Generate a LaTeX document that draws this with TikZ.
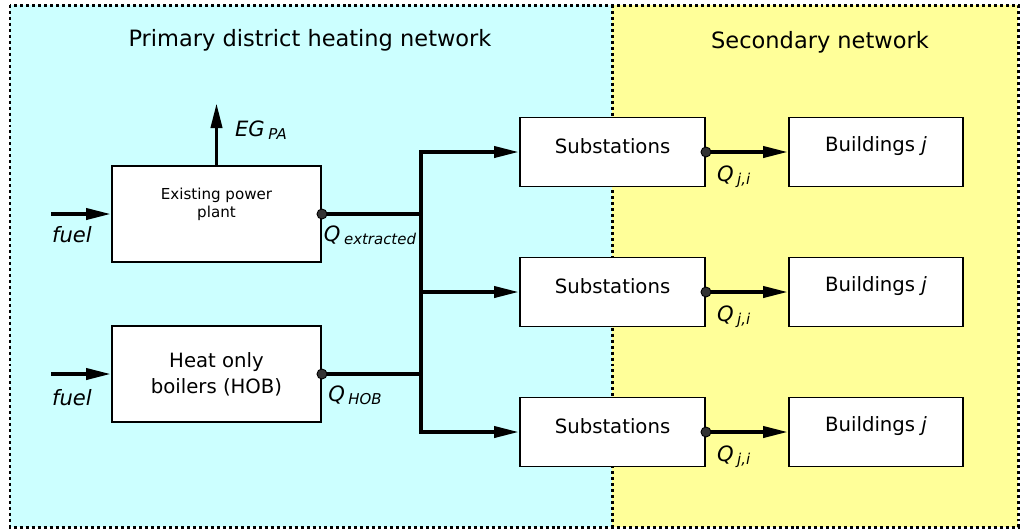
\documentclass[tikz,border=0pt]{standalone}
\usepackage{fontspec}
\setmainfont{DejaVu Sans}
\usetikzlibrary{positioning, arrows.meta}
\definecolor{primbg}{HTML}{CCFFFF}
\definecolor{secbg}{HTML}{FFFF99}
\definecolor{dotgray}{HTML}{333333}
\newcommand{\flowsub}[1]{\,\raisebox{-1.5pt}{\fontsize{8.5}{10}\selectfont #1}}

\begin{document}
\begin{tikzpicture}[
  font=\fontsize{11.2}{14.7}\selectfont,
  box/.style={rectangle, draw, fill=white, line width=1.1pt, minimum height=1.38cm, inner sep=0pt},
  flow/.style={line width=2.2pt},
  arr/.style={flow, -{Triangle[length=0.5cm, width=0.22cm]}},
  dot/.style={circle, draw, fill=dotgray, line width=0.5pt, inner sep=0pt, minimum size=0.2cm},
  var/.style={font=\fontsize{12}{14}\selectfont\itshape, inner sep=1pt},
  title/.style={font=\fontsize{12.8}{15}\selectfont},
  frame/.style={line width=1.7pt, dash pattern=on 1.7pt off 1.7pt},
]
\useasboundingbox (0,0) rectangle (20.42,-10.58);
\fill[primbg] (0.2,-0.1) rectangle (12.24,-10.54);
\fill[secbg] (12.24,-0.1) rectangle (20.36,-10.54);
\draw[frame] (0.2,-0.1) rectangle (20.36,-10.54);
\draw[frame] (12.24,-0.1) -- (12.24,-10.54);

\node[title] (primtitle) at (6.2,-0.8) {Primary district heating network};
\node[title] (sectitle) at (16.4,-0.84) {Secondary network};

\node[box, minimum width=4.18cm, minimum height=1.92cm] (plant) at (4.33,-4.28) {};
\node[font=\fontsize{8.6}{10.2}\selectfont, align=center] (planttxt) at (4.33,-4.08) {Existing power\\plant};
\node[box, minimum width=4.18cm, minimum height=1.92cm, align=center] (hob) at (4.33,-7.48) {Heat only\\boilers (HOB)};

\coordinate (fuelin1) at (1.02,-4.28);
\coordinate (fuelin2) at (1.02,-7.48);
\coordinate (egout) at (4.33,-2.06);
\draw[arr] (fuelin1) -- (plant.west);
\draw[arr] (fuelin2) -- (hob.west);
\draw[arr] (plant.north) -- (egout);
\node[var] (fuel1) at (1.44,-4.7) {fuel};
\node[var] (fuel2) at (1.44,-7.96) {fuel};
\node[var, anchor=west] (eg) at (4.66,-2.6) {EG\flowsub{PA}};

\coordinate (bus) at (8.42,0);

\foreach \n/\y in {1/-3.04, 2/-5.84, 3/-8.64} {
  \node[box, minimum width=3.7cm] (sub\n) at (12.25,\y) {};
  \node (subtxt\n) at ([yshift=0.12cm]sub\n.center) {Substations};
  \node[box, minimum width=3.48cm] (bld\n) at (17.52,\y) {};
  \node (bldtxt\n) at ([yshift=0.12cm]bld\n.center) {Buildings \textit{j}};
  \draw[arr] (sub\n.west -| bus) -- (sub\n.west);
  \draw[arr] (sub\n.east) -- (bld\n.west);
  \node[dot] (subdot\n) at (sub\n.east) {};
  \node[var, anchor=west] (qji\n) at ([xshift=0.18cm, yshift=-0.5cm]sub\n.east) {Q\flowsub{j,i}};
}

\draw[flow, line cap=rect] (sub1.west -| bus) -- (sub3.west -| bus);
\draw[flow] (plant.east) -- (plant.east -| bus);
\draw[flow] (hob.east) -- (hob.east -| bus);
\node[dot] (plantdot) at (plant.east) {};
\node[dot] (hobdot) at (hob.east) {};
\node[var] (qext) at (7.4,-4.7) {Q\flowsub{extracted}};
\node[var] (qhob) at (7.1,-7.9) {Q\flowsub{HOB}};
\end{tikzpicture}
\end{document}
